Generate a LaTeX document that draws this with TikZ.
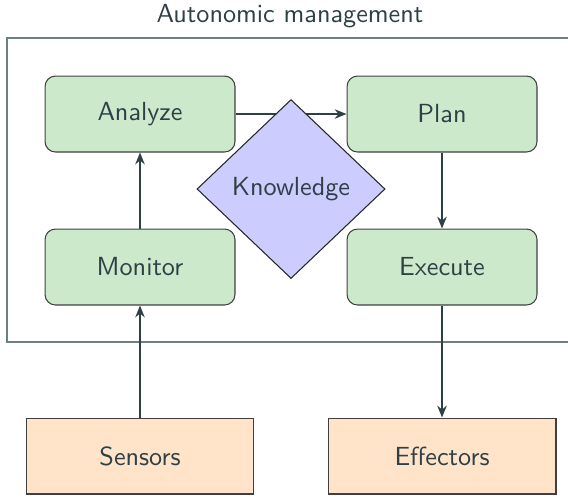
\documentclass[tikz,border=0pt]{standalone}
\usetikzlibrary{shapes.geometric,arrows.meta}
\definecolor{ink}{HTML}{2E4046}
\definecolor{framegray}{HTML}{6E7F80}
\definecolor{phasegreen}{HTML}{CDE9CC}
\definecolor{iopeach}{HTML}{FFE4CA}
\definecolor{kbblue}{HTML}{CCCCFF}
\begin{document}
\begin{tikzpicture}[x=0.3817pt, y=-0.3817pt, font=\sffamily, text=ink]
		\tikzset{phase/.style={rectangle, rounded corners=4pt, draw=black!75, fill=phasegreen, minimum width=72.5pt, minimum height=29pt}};
		\tikzset{io/.style={rectangle, draw=black!75, fill=iopeach, minimum width=87pt, minimum height=29pt}};
		\tikzset{kb/.style={diamond, draw=black!85, fill=kbblue, inner sep=0pt, minimum width=71.8pt, minimum height=68.3pt}};
		\tikzset{flow/.style={draw=ink, line width=0.8pt, -{Stealth[length=4.5pt, width=3.6pt]}}};

		\useasboundingbox (0, 0) rectangle (568, 496);
		\draw[framegray, line width=0.5pt] (7, 38) rectangle (600, 342);
		\node[anchor=base] (title) at (290, 22) {Autonomic management};

		\node[phase] (analyze) at (140, 114) {Analyze};
		\node[phase] (plan) at (442, 114) {Plan};
		\node[phase] (monitor) at (140, 267) {Monitor};
		\node[phase] (execute) at (442, 267) {Execute};
		\node[io] (sensors) at (140, 456) {Sensors};
		\node[io] (effectors) at (442, 456) {Effectors};

		\draw[flow] (analyze) to (plan);

		\node[kb] (knowledge) at (291, 189) {Knowledge};

		\draw[flow] (monitor) to (analyze);
		\draw[flow] (plan) to (execute);
		\draw[flow] (sensors) to (monitor);
		\draw[flow] (execute) to (effectors);

	\end{tikzpicture}
\end{document}
